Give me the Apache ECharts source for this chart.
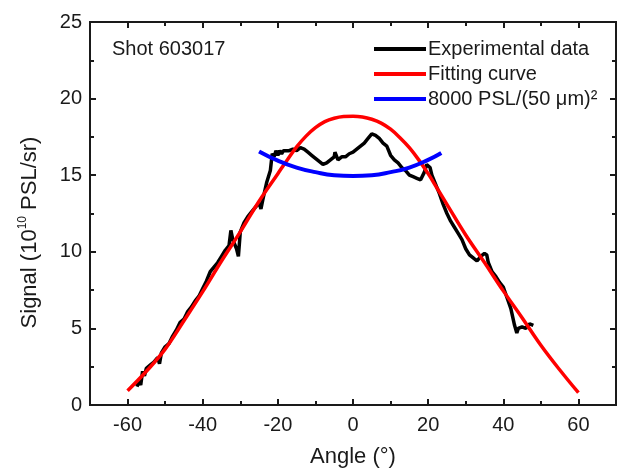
<!DOCTYPE html>
<html>
<head>
<meta charset="utf-8">
<script src="https://cdn.jsdelivr.net/npm/echarts@6/dist/echarts.min.js"></script>
<style>
  html, body { margin: 0; padding: 0; background: #fff; }
  #chart { width: 620px; height: 473px; }
</style>
</head>
<body>
<div id="chart"></div>
<script>
var expAngle = [-57.5, -57, -56.5, -56, -55.5, -55, -54, -53, -52, -51.5, -51, -50, -49, -48, -47, -46, -45, -44, -43, -42, -41, -40,
  -39, -38, -37, -36, -35, -34, -33, -32.5, -32, -31, -30.5, -30, -29, -28, -27, -26, -25, -24.5, -24, -23, -22, -21.5, -21, -20.5,
  -20, -19.5, -19, -18.5, -18, -17, -16, -15, -14, -13, -12, -11, -10, -9, -8, -7, -6, -5, -4.8, -4, -3, -2, -1, 0, 1, 2, 3, 4, 5,
  5.5, 6, 7, 8, 9, 10, 11, 12, 13, 14, 15, 16, 17, 18, 19, 19.6, 20.5, 21, 22, 23, 24, 25, 26, 27, 28, 29, 30, 31, 32, 33, 34, 35,
  35.6, 36, 37, 38, 39, 40, 41, 42, 43, 43.6, 44, 45, 46, 47, 47.5, 48];
var expSignal = [1.2, 1.6, 1.3, 2.2, 1.9, 2.4, 2.6, 2.8, 3.1, 2.7, 3.4, 3.8, 4.0, 4.5, 4.9, 5.4, 5.6, 6.1, 6.4, 6.8, 7.1, 7.6,
  8.1, 8.7, 9.0, 9.3, 9.7, 10.1, 10.4, 11.4, 10.8, 10.2, 9.7, 11.3, 11.9, 12.3, 12.6, 12.9, 13.2, 12.8, 13.4, 14.5, 15.3, 16.4, 16.2, 16.6,
  16.3, 16.6, 16.4, 16.6, 16.5, 16.6, 16.7, 16.6, 16.8, 16.7, 16.5, 16.3, 16.1, 15.9, 15.7, 15.8, 16.0, 16.2, 16.5, 16.0, 16.2, 16.2, 16.4, 16.5, 16.7, 16.9, 17.1, 17.4, 17.7,
  17.8, 17.6, 17.4, 17.1, 16.9, 16.3, 16.0, 15.8, 15.5, 15.3, 15.0, 14.9, 14.8, 14.7, 15.2, 15.7, 15.5, 15.0, 14.4, 13.8, 13.1, 12.5, 12.0, 11.6, 11.2, 10.8, 10.2, 9.8, 9.6, 9.4, 9.7, 9.9,
  9.8, 9.3, 8.7, 8.4, 8.0, 7.7, 7.0, 6.3, 5.2, 4.7, 5.0, 5.1, 5.0, 5.3, 5.4, 5.2];

// fitting curve (red)
var fitAngle = [-60, -55, -50, -45, -40, -35, -30, -25, -20, -17.5, -15, -12.5, -10, -7.5, -5, -2.5, 0,
  2.5, 5, 7.5, 10, 12.5, 15, 17.5, 20, 22.5, 25, 30, 35, 40, 45, 50, 55, 60];
var fitSignal = [0.93, 2.2, 3.65, 5.5, 7.4, 9.4, 11.3, 13.3, 15.1, 16.0, 16.85, 17.55, 18.1, 18.5, 18.72, 18.83, 18.85,
  18.8, 18.65, 18.4, 18.0, 17.45, 16.8, 16.0, 15.1, 14.1, 13.1, 11.1, 9.3, 7.45, 5.7, 3.9, 2.3, 0.8];

// 8000 PSL/(50 um)^2 curve (blue)
var blueAngle = [-25, -20, -15, -10, -5, 0, 5, 10, 15, 20, 23.5];
var blueSignal = [16.55, 15.95, 15.5, 15.2, 15.0, 14.95, 15.0, 15.2, 15.5, 16.0, 16.45];

var xMajor = [-60, -40, -20, 0, 20, 40, 60];
var xMinor = [-50, -30, -10, 10, 30, 50];

function pairs(xs, ys) {
  return xs.map(function (x, i) { return [x, ys[i]]; });
}

var ink = '#1a1a1a';
var font = 'Liberation Sans, Arial, sans-serif';

function xAxisOf(pos, ticks, len, withLabels) {
  return {
    type: 'value', position: pos, min: -70, max: 70,
    axisLine: { show: true, onZero: false, lineStyle: { color: ink, width: 2 } },
    axisTick: { show: true, inside: true, length: len, customValues: ticks, lineStyle: { color: ink, width: 2 } },
    axisLabel: withLabels
      ? { show: true, customValues: ticks, color: ink, fontSize: 20, fontFamily: font, margin: 10 }
      : { show: false },
    splitLine: { show: false }
  };
}

var bottomAxis = xAxisOf('bottom', xMajor, 6, true);
bottomAxis.name = 'Angle (°)';
bottomAxis.nameLocation = 'middle';
bottomAxis.nameGap = 41;
bottomAxis.nameTextStyle = { color: ink, fontSize: 22, fontFamily: font };

function yAxisOf(pos, withLabels) {
  return {
    type: 'value', position: pos, min: 0, max: 25, interval: 5,
    axisLine: { show: true, onZero: false, lineStyle: { color: ink, width: 2 } },
    axisTick: { show: true, inside: true, length: 6, lineStyle: { color: ink, width: 2 } },
    minorTick: { show: true, splitNumber: 2, length: 4, lineStyle: { color: ink, width: 2 } },
    axisLabel: withLabels ? { color: ink, fontSize: 20, fontFamily: font, margin: 8 } : { show: false },
    splitLine: { show: false }
  };
}

var leftAxis = yAxisOf('left', true);
leftAxis.name = '{t|Signal (10}{s|10}{t| PSL/sr)}';
leftAxis.nameLocation = 'middle';
leftAxis.nameGap = 48;
leftAxis.nameTextStyle = {
  color: ink, fontFamily: font, padding: [0, 38, 0, 0],
  rich: {
    t: { fontSize: 22, color: ink, fontFamily: font, lineHeight: 25 },
    s: { fontSize: 12, color: ink, fontFamily: font, lineHeight: 25, verticalAlign: 'top', padding: [0, 0, 10, 0] }
  }
};

var chart = echarts.init(document.getElementById('chart'), null, { renderer: 'canvas' });
chart.setOption({
  animation: false,
  backgroundColor: '#fff',
  title: {
    text: 'Shot 603017', left: 107, top: 34,
    textStyle: { color: ink, fontSize: 20, fontWeight: 'normal', fontFamily: font }
  },
  legend: {
    orient: 'vertical', left: 369, top: 34, itemGap: 5,
    icon: 'rect', itemWidth: 52, itemHeight: 4,
    textStyle: { color: ink, fontSize: 20, fontFamily: font, padding: [0, 0, 0, -3] },
    data: ['Experimental data', 'Fitting curve', '8000 PSL/(50 μm)²']
  },
  grid: { left: 90, right: 4, top: 22, bottom: 67 },
  xAxis: [
    bottomAxis,
    xAxisOf('bottom', xMinor, 4, false),
    xAxisOf('top', xMajor, 6, false),
    xAxisOf('top', xMinor, 4, false)
  ],
  yAxis: [leftAxis, yAxisOf('right', false)],
  series: [
    {
      name: 'Experimental data', type: 'line', data: pairs(expAngle, expSignal),
      showSymbol: false, color: '#000', lineStyle: { color: '#000', width: 3.5 }
    },
    {
      name: 'Fitting curve', type: 'line', data: pairs(fitAngle, fitSignal), smooth: 0.4,
      showSymbol: false, color: '#ff0000', lineStyle: { color: '#ff0000', width: 3.5 }
    },
    {
      name: '8000 PSL/(50 μm)²', type: 'line', data: pairs(blueAngle, blueSignal), smooth: true,
      showSymbol: false, color: '#0000ff', lineStyle: { color: '#0000ff', width: 4 }
    }
  ]
});
</script>
</body>
</html>
